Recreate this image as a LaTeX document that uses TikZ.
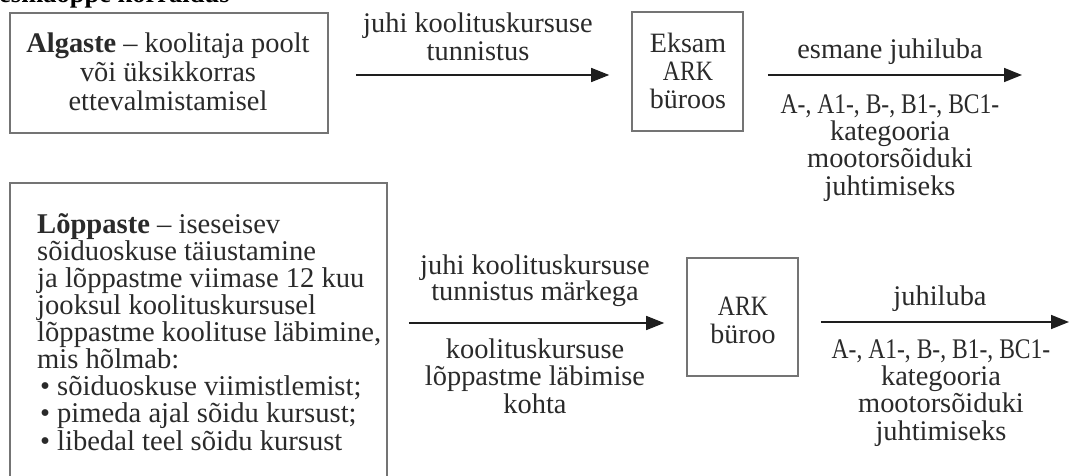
\documentclass[tikz,border=0pt]{standalone}
\usepackage{graphicx}
\usepackage{fontspec}
\setmainfont{Liberation Serif}
\usetikzlibrary{arrows.meta}
\definecolor{ink}{HTML}{2A2A2A}
\definecolor{boxgray}{HTML}{747474}
\definecolor{arrowink}{HTML}{1E1E1E}
\newcommand{\fls}{\rule{0pt}{21pt}}
\newcommand{\cats}{\scalebox{0.83}[1]{A-, A1-, B-, B1-, BC1-}}
\begin{document}
\lineskiplimit=-50pt\relax
\begin{tikzpicture}[x=1pt,y=-1pt,
  txt/.style={font=\fontsize{28.4}{27.3}\selectfont, text=ink, inner sep=0pt, align=center, anchor=north},
  box/.style={draw=boxgray, line width=1.6pt, inner sep=0pt},
  arr/.style={draw=arrowink, line width=1.5pt, -{Triangle[length=18pt,width=14pt]}},
]
\useasboundingbox (0,0) rectangle (1070,476);

% title (cut off at the top)
\node[anchor=base west, inner sep=0pt, text=black, font=\fontsize{26.5}{30}\selectfont\bfseries] (title) at (-1,3) {esmaõppe korraldus};

% boxes
\node[box, minimum width=318pt, minimum height=120pt] (b1) at (169,73) {};
\node[box, minimum width=111pt, minimum height=119pt] (b2) at (687.5,71.5) {};
\node[box, minimum width=377pt, minimum height=320pt] (b3) at (198.5,343) {};
\node[box, minimum width=111pt, minimum height=118pt] (b4) at (742.5,317) {};

% box texts
\node[txt, font=\fontsize{28.4}{29}\selectfont] (t1) at (168,52-21) {\fls\textbf{Algaste} – koolitaja poolt\\või üksikkorras\\ettevalmistamisel};
\node[txt, font=\fontsize{28}{28}\selectfont] (t2) at (688,52-21) {\fls Eksam\\\scalebox{0.85}[1]{ARK}\\büroos};
\node[txt, font=\fontsize{28}{28}\selectfont] (t4) at (743,315-21) {\fls \scalebox{0.85}[1]{ARK}\\büroo};
\node[txt, align=left, anchor=north west, font=\fontsize{28.6}{27.1}\selectfont] (t3) at (37,233-21) {\fls\textbf{Lõppaste} – iseseisev\\
sõiduoskuse täiustamine\\
ja lõppastme viimase 12 kuu\\
jooksul koolituskursusel\\
lõppastme koolituse läbimine,\\
mis hõlmab:\\
\hspace*{3pt}\makebox[17pt][l]{•}sõiduoskuse viimistlemist;\\
\hspace*{3pt}\makebox[17pt][l]{•}pimeda ajal sõidu kursust;\\
\hspace*{3pt}\makebox[17pt][l]{•}libedal teel sõidu kursust};

% arrows
\coordinate (r1) at (0,75);
\coordinate (e2) at (1022,75);
\coordinate (r3) at (0,323);
\coordinate (e4) at (1069,322);
\draw[arr, shorten <=27pt, shorten >=22pt] (b1.east |- r1) -- (b2.west |- r1);
\draw[arr, shorten <=24pt] (b2.east |- e2) -- (e2);
\draw[arr, shorten <=21pt, shorten >=22pt] (b3.east |- r3) -- (b4.west |- r3);
\draw[arr, shorten <=22pt] (b4.east |- e4) -- (e4);

% arrow labels
\node[txt, font=\fontsize{28.4}{28}\selectfont] (l1) at (478,32-21) {\fls juhi koolituskursuse\\tunnistus};
\node[txt] (l2a) at (890,58-21) {\fls esmane juhiluba};
\node[txt] (l2b) at (890,113-21) {\fls \cats\\kategooria\\mootorsõiduki\\juhtimiseks};
\node[txt, font=\fontsize{28.4}{26}\selectfont] (l3a) at (535,274-21) {\fls juhi koolituskursuse\\tunnistus märkega};
\node[txt, font=\fontsize{28.4}{27.5}\selectfont] (l3b) at (535,358-21) {\fls koolituskursuse\\lõppastme läbimise\\kohta};
\node[txt] (l4a) at (940,305-21) {\fls juhiluba};
\node[txt] (l4b) at (941,358-21) {\fls \cats\\kategooria\\mootorsõiduki\\juhtimiseks};
\end{tikzpicture}
\end{document}
